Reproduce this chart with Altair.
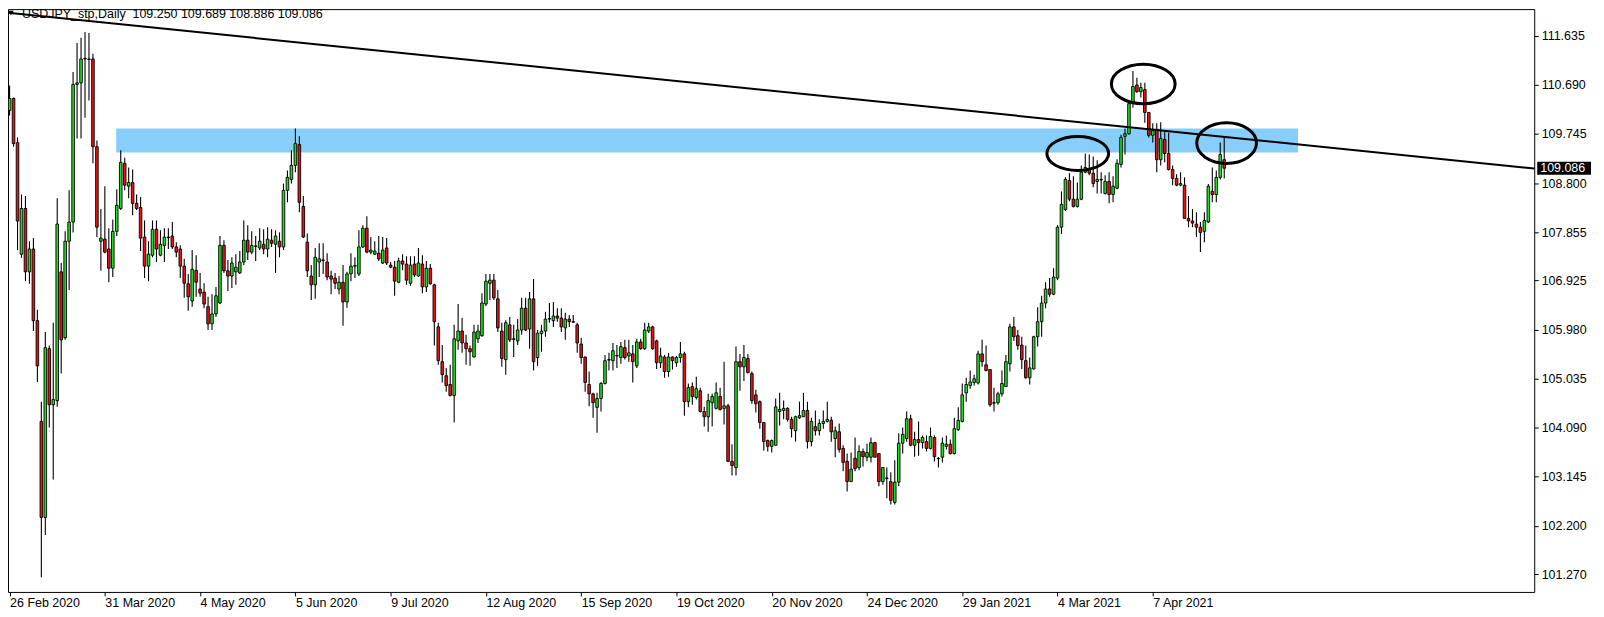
import json
import altair as alt
import pandas as pd

# ---------------- data ----------------
header_text = "USDJPY_stp,Daily\u00a0\u00a0109.250 109.689 108.886 109.086"
date_labels = ["26 Feb 2020", "31 Mar 2020", "4 May 2020", "5 Jun 2020", "9 Jul 2020",
               "12 Aug 2020", "15 Sep 2020", "19 Oct 2020", "20 Nov 2020", "24 Dec 2020",
               "29 Jan 2021", "4 Mar 2021", "7 Apr 2021"]
date_bars = [0, 24, 48, 72, 96, 120, 144, 168, 192, 216, 240, 264, 288]
price_ticks = [111.635, 110.690, 109.745, 108.800, 107.855, 106.925,
               105.980, 105.035, 104.090, 103.145, 102.200, 101.270]

opens = [
    110.20, 110.43, 109.58, 107.43, 108.31, 107.09, 107.53, 106.15, 104.21, 102.36,
    105.61, 104.53, 104.61, 107.09, 105.82, 107.68, 108.05, 110.70, 110.73, 111.19,
    111.19, 111.19, 109.50, 107.68, 107.72, 107.53, 107.16, 107.87, 108.31, 109.18,
    108.74, 108.81, 108.41, 108.33, 107.76, 107.20, 107.41, 107.91, 107.41, 107.60,
    107.76, 107.78, 107.57, 107.53, 107.20, 106.86, 106.53, 107.12, 106.76, 106.70,
    106.42, 106.09, 106.28, 106.49, 107.60, 107.11, 107.01, 107.09, 107.07, 107.28,
    107.70, 107.47, 107.58, 107.55, 107.62, 107.53, 107.70, 107.62, 107.68, 107.57,
    108.66, 108.87, 109.14, 109.54, 108.35, 107.66, 107.01, 106.84, 107.28, 107.32,
    107.28, 107.01, 106.97, 106.76, 106.89, 106.51, 107.05, 107.20, 107.05, 107.57,
    107.93, 107.47, 107.43, 107.45, 107.26, 107.55, 107.22, 107.18, 106.89, 107.30,
    107.24, 106.87, 107.24, 107.01, 107.24, 106.80, 107.16, 106.84, 106.03, 105.36,
    105.09, 104.92, 104.71, 105.76, 105.95, 105.72, 105.61, 105.45, 105.80, 105.86,
    106.47, 106.87, 106.93, 106.57, 105.95, 105.40, 106.07, 105.80, 105.76, 105.97,
    106.39, 105.99, 106.57, 105.44, 105.90, 105.95, 106.18, 106.15, 106.24, 106.20,
    106.01, 106.18, 106.13, 106.07, 105.70, 105.45, 104.92, 104.74, 104.48, 104.65,
    104.94, 105.40, 105.38, 105.47, 105.44, 105.63, 105.47, 105.51, 105.28, 105.74,
    105.61, 105.95, 106.03, 105.76, 105.34, 105.45, 105.17, 105.45, 105.34, 105.44,
    105.51, 104.59, 104.88, 104.67, 104.80, 104.40, 104.30, 104.57, 104.46, 104.69,
    104.46, 104.51, 103.44, 103.32, 105.36, 105.26, 105.42, 105.13, 104.72, 104.59,
    104.19, 103.84, 103.73, 103.75, 104.40, 104.42, 104.46, 104.25, 104.03, 104.28,
    104.30, 104.42, 103.82, 104.11, 104.03, 104.17, 104.21, 104.23, 103.88, 104.01,
    103.69, 103.44, 103.05, 103.50, 103.32, 103.63, 103.52, 103.52, 103.80, 103.59,
    103.05, 103.11, 103.05, 102.65, 103.04, 103.79, 103.88, 104.26, 103.75, 103.86,
    103.80, 103.82, 103.69, 103.90, 103.50, 103.52, 103.73, 103.77, 103.59, 104.05,
    104.21, 104.76, 104.90, 104.96, 104.95, 105.51, 105.30, 105.21, 104.57, 104.57,
    104.74, 104.88, 105.32, 106.03, 105.86, 105.68, 105.38, 105.05, 105.22, 105.84,
    106.13, 106.49, 106.76, 106.66, 106.97, 107.95, 108.29, 108.85, 108.49, 108.35,
    108.49, 109.01, 109.08, 108.99, 108.83, 108.87, 108.60, 108.83, 108.58, 108.70,
    109.16, 109.70, 109.75, 110.33, 110.69, 110.56, 110.60, 110.16, 109.72, 109.83,
    109.25, 109.64, 109.37, 109.06, 108.89, 108.76, 108.76, 108.12, 108.07, 108.01,
    107.95, 107.87, 108.05, 108.64, 108.58, 108.91, 109.250,
]
highs = [
    110.68, 110.45, 109.68, 108.58, 108.55, 107.68, 107.74, 106.36, 104.59, 105.93,
    105.67, 106.11, 108.51, 107.26, 107.87, 108.66, 110.94, 111.50, 111.60, 111.71,
    111.69, 111.29, 109.62, 108.30, 108.74, 107.93, 108.10, 108.68, 109.43, 109.29,
    109.10, 109.06, 108.58, 108.53, 108.08, 107.68, 108.08, 108.08, 107.89, 107.93,
    107.93, 108.05, 107.66, 107.60, 107.34, 107.05, 107.51, 107.41, 107.07, 106.87,
    106.61, 106.66, 106.80, 107.78, 107.70, 107.32, 107.37, 107.43, 107.49, 108.08,
    107.99, 107.87, 107.78, 107.93, 107.91, 107.95, 107.91, 107.89, 107.85, 108.79,
    109.04, 109.43, 109.85, 109.70, 108.55, 107.83, 107.22, 107.55, 107.64, 107.64,
    107.45, 107.11, 107.07, 107.01, 107.22, 107.09, 107.45, 107.37, 107.89, 107.99,
    108.16, 107.76, 107.68, 107.78, 107.76, 107.74, 107.28, 107.30, 107.36, 107.43,
    107.39, 107.39, 107.39, 107.55, 107.41, 107.30, 107.24, 106.86, 106.11, 105.68,
    105.24, 105.30, 106.07, 106.47, 106.20, 105.88, 105.67, 106.07, 106.07, 106.68,
    107.05, 107.05, 107.05, 106.74, 106.11, 106.16, 106.22, 106.07, 106.18, 106.59,
    106.59, 106.70, 106.95, 105.97, 106.07, 106.32, 106.49, 106.51, 106.39, 106.39,
    106.30, 106.26, 106.26, 106.11, 105.82, 105.46, 105.17, 104.76, 104.76, 104.97,
    105.49, 105.53, 105.72, 105.68, 105.74, 105.78, 105.78, 105.68, 105.80, 105.80,
    106.11, 106.11, 106.05, 105.78, 105.63, 105.49, 105.53, 105.46, 105.47, 105.74,
    105.55, 104.94, 104.96, 105.07, 104.86, 104.49, 104.74, 104.74, 104.96, 104.86,
    105.36, 104.55, 103.77, 105.65, 105.51, 105.68, 105.51, 105.17, 104.82, 104.61,
    104.19, 103.86, 103.86, 104.65, 104.76, 104.61, 104.48, 104.30, 104.32, 104.59,
    104.76, 104.59, 104.28, 104.42, 104.25, 104.42, 104.59, 104.30, 104.11, 104.17,
    103.75, 103.59, 103.61, 103.90, 103.75, 103.69, 103.78, 103.90, 103.82, 103.59,
    103.32, 103.32, 103.23, 103.46, 103.98, 104.09, 104.40, 104.34, 104.01, 104.21,
    103.94, 103.94, 104.09, 103.94, 103.52, 103.90, 103.94, 103.86, 104.28, 104.48,
    104.94, 105.05, 105.19, 105.11, 105.57, 105.78, 105.67, 105.21, 104.86, 104.78,
    105.19, 105.49, 106.09, 106.22, 105.97, 105.84, 105.67, 105.44, 105.86, 106.41,
    106.63, 106.89, 106.97, 107.16, 107.99, 108.64, 108.91, 108.99, 108.93, 108.81,
    109.14, 109.37, 109.35, 109.31, 109.24, 109.01, 108.95, 109.01, 108.93, 109.26,
    109.73, 109.85, 110.34, 110.96, 110.83, 110.73, 110.73, 110.16, 109.95, 109.95,
    109.97, 109.81, 109.77, 109.14, 108.97, 109.01, 108.91, 108.55, 108.30, 108.24,
    108.05, 108.24, 108.78, 109.10, 109.04, 109.58, 109.689,
]
lows = [
    110.10, 109.50, 107.51, 107.36, 106.91, 106.86, 105.95, 104.97, 101.21, 102.02,
    104.09, 103.09, 104.49, 105.13, 105.78, 106.74, 107.85, 109.66, 109.66, 110.06,
    110.39, 109.18, 107.76, 107.11, 107.45, 106.89, 106.99, 107.78, 108.28, 108.66,
    108.51, 108.18, 108.28, 107.49, 106.97, 106.91, 107.37, 107.28, 107.39, 107.28,
    107.53, 107.53, 107.37, 106.97, 106.59, 106.34, 106.42, 106.61, 106.61, 106.39,
    105.97, 105.97, 106.22, 106.47, 107.07, 106.72, 106.78, 106.84, 107.05, 107.22,
    107.32, 107.43, 107.30, 107.51, 107.43, 107.37, 107.57, 107.07, 107.37, 107.51,
    108.43, 108.79, 109.01, 108.24, 107.74, 106.99, 106.55, 106.57, 106.99, 107.05,
    106.93, 106.66, 106.76, 106.66, 106.05, 106.40, 106.91, 106.97, 107.01, 107.55,
    107.45, 107.43, 107.42, 107.30, 107.24, 107.22, 107.16, 106.63, 106.87, 107.12,
    106.84, 106.82, 106.99, 106.99, 106.68, 106.70, 106.84, 105.67, 105.30, 104.96,
    104.78, 104.69, 104.19, 105.59, 105.53, 105.30, 105.28, 105.44, 105.72, 105.84,
    106.43, 106.55, 106.55, 105.93, 105.26, 105.11, 105.74, 105.45, 105.68, 105.88,
    105.95, 105.61, 105.19, 105.28, 105.55, 105.84, 106.11, 106.03, 106.13, 105.93,
    105.78, 106.03, 106.11, 105.53, 105.32, 104.78, 104.50, 104.28, 103.99, 104.40,
    104.92, 105.19, 105.19, 105.24, 105.32, 105.40, 105.36, 104.96, 105.24, 105.59,
    105.59, 105.91, 105.59, 105.22, 105.24, 105.05, 105.07, 105.21, 105.26, 105.34,
    104.32, 104.48, 104.53, 104.63, 104.38, 104.11, 104.01, 104.11, 104.44, 104.42,
    104.15, 103.43, 103.17, 103.17, 104.80, 104.99, 105.13, 104.55, 104.38, 104.07,
    103.65, 103.63, 103.61, 103.75, 104.13, 104.25, 104.21, 103.90, 103.82, 104.26,
    104.30, 103.69, 103.73, 103.94, 103.94, 104.07, 104.19, 103.82, 103.52, 103.61,
    103.25, 102.86, 103.05, 103.25, 103.27, 103.34, 103.44, 103.42, 103.52, 102.96,
    102.99, 102.73, 102.61, 102.61, 102.96, 103.59, 103.82, 103.73, 103.53, 103.55,
    103.69, 103.63, 103.67, 103.44, 103.32, 103.42, 103.67, 103.57, 103.57, 104.03,
    104.19, 104.59, 104.84, 104.90, 104.92, 105.26, 105.17, 104.49, 104.40, 104.53,
    104.69, 104.88, 105.17, 105.76, 105.59, 105.22, 105.03, 104.92, 105.21, 105.65,
    105.84, 106.39, 106.61, 106.64, 106.93, 107.82, 108.26, 108.45, 108.33, 108.33,
    108.47, 108.99, 108.95, 108.72, 108.60, 108.60, 108.58, 108.41, 108.43, 108.68,
    109.10, 109.35, 109.73, 110.25, 110.54, 110.45, 109.96, 109.68, 109.58, 109.01,
    109.14, 109.20, 109.04, 108.76, 108.74, 108.74, 108.12, 107.95, 107.95, 107.76,
    107.47, 107.66, 108.03, 108.43, 108.43, 108.87, 108.886,
]
closes = [
    110.43, 109.56, 108.07, 108.31, 107.09, 107.53, 106.15, 105.28, 102.36, 105.63,
    104.53, 104.63, 108.01, 105.78, 107.68, 108.05, 110.70, 110.73, 111.19, 111.20,
    111.18, 109.50, 107.95, 107.74, 107.47, 107.16, 107.87, 108.37, 109.20, 108.76,
    108.81, 108.41, 108.31, 107.74, 107.20, 107.43, 107.91, 107.53, 107.62, 107.76,
    107.75, 107.57, 107.47, 107.20, 106.87, 106.61, 107.14, 106.89, 106.68, 106.47,
    106.09, 106.28, 106.63, 107.60, 107.11, 107.01, 107.26, 107.18, 107.28, 107.70,
    107.47, 107.60, 107.59, 107.68, 107.53, 107.72, 107.64, 107.78, 107.57, 108.66,
    108.91, 109.14, 109.56, 108.43, 107.76, 107.11, 106.84, 107.37, 107.34, 107.31,
    106.99, 106.95, 106.87, 106.89, 106.51, 107.05, 107.20, 107.21, 107.57, 107.93,
    107.47, 107.51, 107.49, 107.34, 107.51, 107.26, 107.18, 106.91, 107.30, 107.24,
    106.93, 107.22, 107.03, 107.26, 106.80, 107.16, 106.86, 106.13, 105.38, 105.11,
    104.90, 104.71, 105.80, 105.95, 105.72, 105.61, 105.55, 105.93, 105.95, 106.49,
    106.91, 106.93, 106.59, 106.01, 105.42, 106.11, 105.78, 105.79, 105.97, 106.39,
    105.97, 106.57, 105.36, 105.91, 105.95, 106.18, 106.19, 106.24, 106.20, 106.03,
    106.18, 106.13, 106.12, 105.72, 105.44, 104.96, 104.74, 104.57, 104.65, 104.94,
    105.38, 105.39, 105.57, 105.48, 105.65, 105.44, 105.53, 105.36, 105.74, 105.61,
    105.97, 106.03, 105.61, 105.34, 105.47, 105.17, 105.45, 105.38, 105.44, 105.51,
    104.59, 104.86, 104.69, 104.84, 104.40, 104.30, 104.61, 104.69, 104.76, 104.44,
    104.51, 103.44, 103.36, 105.36, 105.26, 105.44, 105.15, 104.61, 104.55, 104.19,
    103.82, 103.73, 103.84, 104.49, 104.44, 104.46, 104.25, 104.07, 104.30, 104.32,
    104.42, 103.82, 104.21, 104.03, 104.17, 104.21, 104.25, 104.01, 104.03, 103.67,
    103.42, 103.05, 103.29, 103.30, 103.63, 103.53, 103.61, 103.80, 103.52, 103.05,
    103.32, 103.12, 102.69, 103.04, 103.79, 103.96, 104.26, 103.75, 103.86, 103.80,
    103.90, 103.69, 103.92, 103.53, 103.49, 103.79, 103.77, 103.59, 104.07, 104.23,
    104.72, 104.92, 104.97, 105.03, 105.51, 105.36, 105.19, 104.53, 104.56, 104.74,
    104.94, 105.36, 106.03, 105.84, 105.67, 105.40, 105.05, 105.24, 105.84, 106.13,
    106.49, 106.76, 106.66, 106.99, 107.95, 108.39, 108.87, 108.49, 108.35, 108.49,
    109.01, 109.10, 108.99, 108.79, 108.87, 108.86, 108.83, 108.58, 108.74, 109.18,
    109.68, 109.75, 110.33, 110.66, 110.56, 110.64, 110.16, 109.72, 109.81, 109.25,
    109.66, 109.37, 109.06, 108.89, 108.76, 108.79, 108.12, 108.07, 108.03, 107.95,
    107.85, 108.08, 108.74, 108.58, 108.91, 109.35, 109.086,
]

zone_bars = [26.85, 324.6]          # shaded resistance zone, start / end bar
zone_prices = [109.39, 109.85]      # lower / upper price
trend_bars = [-0.4, 384.1]          # trend line end points (bar index)
trend_prices = [112.08, 109.08]
ellipse_bars = [269.1, 285.6, 306.6]
ellipse_prices = [109.37, 110.71, 109.57]
last_price = 109.086

n = len(opens)
assert len(highs) == n and len(lows) == n and len(closes) == n, (n, len(highs), len(lows), len(closes))

# ---------------- styling ----------------
FONT = "Liberation Sans"
FS = 12.5
GREEN = "#1FE01F"
RED = "#EE1111"
ZONE = "#87CEFA"
W, H = 1532, 585

df = pd.DataFrame({
    "i": list(range(n)), "o": opens, "h": highs, "l": lows, "c": closes,
})
df["dir"] = ["up" if c >= o else "down" for o, c in zip(opens, closes)]

xs = alt.Scale(domain=[-0.4, 384.1], nice=False, zero=False, padding=0)
ys = alt.Scale(domain=[100.925, 112.15], nice=False, zero=False, padding=0)

label_arr = json.dumps(date_labels)
x_axis = alt.Axis(values=date_bars, labelExpr=f"{label_arr}[round(datum.value / 24)]",
                  orient="bottom", tickSize=4, tickColor="black", labelAlign="left",
                  labelBaseline="top", labelPadding=1, domain=False, grid=False,
                  title=None, labelFlush=False, labelOverlap=False, labelFont=FONT,
                  labelFontSize=FS, labelColor="black")
y_axis = alt.Axis(values=price_ticks, format=".3f", orient="right", tickSize=4,
                  tickColor="black", labelPadding=3, domain=False, grid=False,
                  title=None, labelFont=FONT, labelFontSize=FS, labelColor="black",
                  labelOverlap=False, labelFlush=False)

zone_df = pd.DataFrame({"x": [zone_bars[0]], "x2": [zone_bars[1]],
                        "y": [zone_prices[0]], "y2": [zone_prices[1]]})
zone = alt.Chart(zone_df).mark_rect(color=ZONE).encode(
    x=alt.X("x:Q", scale=xs, axis=x_axis), x2="x2:Q",
    y=alt.Y("y:Q", scale=ys, axis=y_axis), y2="y2:Q")

wicks = alt.Chart(df).mark_rule(color="black", strokeWidth=1.1).encode(
    x=alt.X("i:Q", scale=xs), y=alt.Y("l:Q", scale=ys), y2="h:Q")

bodies = alt.Chart(df).mark_bar(size=2.6, stroke="black", strokeWidth=0.9).encode(
    x=alt.X("i:Q", scale=xs), y=alt.Y("o:Q", scale=ys), y2="c:Q",
    color=alt.Color("dir:N", scale=alt.Scale(domain=["up", "down"], range=[GREEN, RED]),
                    legend=None))

trend_df = pd.DataFrame({"x": trend_bars, "y": trend_prices})
trend = alt.Chart(trend_df).mark_line(color="black", strokeWidth=2).encode(
    x=alt.X("x:Q", scale=xs), y=alt.Y("y:Q", scale=ys))

def ellipse_layer(k, ratio, half_w):
    path = f"M -1 0 A 1 {ratio} 0 1 1 1 0 A 1 {ratio} 0 1 1 -1 0 Z"
    d = pd.DataFrame({"x": [ellipse_bars[k]], "y": [ellipse_prices[k]]})
    return alt.Chart(d).mark_point(shape=path, size=(2 * half_w) ** 2, filled=False,
                                   stroke="black", strokeWidth=3, opacity=1).encode(
        x=alt.X("x:Q", scale=xs), y=alt.Y("y:Q", scale=ys))

ell1 = ellipse_layer(0, 0.55, 31)
ell2 = ellipse_layer(1, 0.62, 32)
ell3 = ellipse_layer(2, 0.68, 30)

last_df = pd.DataFrame({"y": [last_price], "t": [f"{last_price:.3f}"]})
box = alt.Chart(last_df).mark_point(
    shape="M -1 -0.24 L 1 -0.24 L 1 0.24 L -1 0.24 Z", size=2916, filled=True,
    color="black", opacity=1).encode(x=alt.value(W + 30), y=alt.Y("y:Q", scale=ys))
box_text = alt.Chart(last_df).mark_text(
    align="left", baseline="middle", color="white", font=FONT, fontSize=FS).encode(
    x=alt.value(W + 6), y=alt.Y("y:Q", scale=ys), text="t:N")

head_df = pd.DataFrame({"t": [header_text]})
header = alt.Chart(head_df).mark_text(
    align="left", baseline="alphabetic", color="black", font=FONT, fontSize=FS).encode(
    x=alt.value(14), y=alt.value(8.9), text="t:N")
icon = alt.Chart(head_df).mark_point(
    shape="triangle-down", size=28, filled=True, color="black", opacity=1).encode(
    x=alt.value(3), y=alt.value(4))

chart = alt.layer(zone, wicks, bodies, trend, ell1, ell2, ell3, box, box_text,
                  header, icon).properties(
    width=W, height=H,
    padding={"left": 0, "top": 0, "right": 62, "bottom": 21},
    autosize=alt.AutoSizeParams(type="none"),
    background="white",
).configure_view(stroke="black", strokeWidth=1)

chart.save("out.html", embed_options={"renderer": "svg", "actions": False})
